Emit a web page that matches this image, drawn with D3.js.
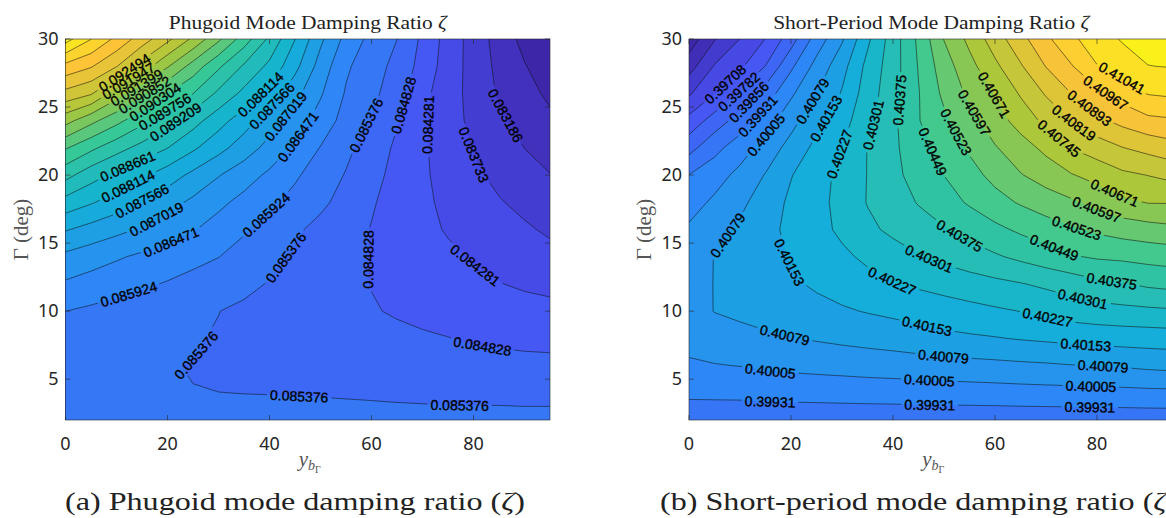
<!DOCTYPE html>
<html>
<head>
<meta charset="utf-8">
<script src="https://cdn.jsdelivr.net/npm/d3@7"></script>
<style>
  body { margin: 0; background: #ffffff; }
  svg { display: block; }
</style>
</head>
<body>
<svg id="fig" width="1166" height="518"></svg>
<script>
// Grid coordinates: spanwise dihedral-break position and dihedral angle
const spanPositions = [0, 5, 10, 15, 20, 25, 30, 35, 40, 45, 50, 55, 60, 65, 70, 75, 80, 85, 90, 95];
const dihedralDeg = [2, 4, 6, 8, 10, 12, 14, 16, 18, 20, 22, 24, 26, 28, 30];

// Phugoid damping ratio, one row per dihedral angle (bottom row = 2 deg)
const phugoidZeta = [
  [0.085677,0.085623,0.085568,0.085529,0.085497,0.085475,0.085458,0.085447,0.085442,0.085436,0.085431,0.085431,0.085431,0.085425,0.085425,0.085420,0.085420,0.085420,0.085414,0.085414],
  [0.085705,0.085623,0.085551,0.085486,0.085392,0.085379,0.085378,0.085373,0.085371,0.085368,0.085365,0.085360,0.085354,0.085349,0.085343,0.085340,0.085338,0.085338,0.085338,0.085338],
  [0.085759,0.085677,0.085595,0.085513,0.085383,0.085370,0.085310,0.085278,0.085250,0.085223,0.085195,0.085157,0.085124,0.085086,0.085048,0.085015,0.084993,0.084971,0.084949,0.084949],
  [0.085814,0.085737,0.085661,0.085584,0.085502,0.085403,0.085349,0.085294,0.085239,0.085184,0.085130,0.085069,0.085015,0.084954,0.084894,0.084840,0.084774,0.084746,0.084719,0.084692],
  [0.085926,0.085830,0.085737,0.085650,0.085562,0.085469,0.085382,0.085294,0.085206,0.085124,0.085037,0.084949,0.084867,0.084774,0.084692,0.084621,0.084555,0.084500,0.084456,0.084418],
  [0.086400,0.086252,0.086115,0.086006,0.085885,0.085748,0.085617,0.085486,0.085349,0.085212,0.085080,0.084944,0.084812,0.084708,0.084610,0.084506,0.084402,0.084297,0.084215,0.084155],
  [0.086893,0.086717,0.086537,0.086373,0.086230,0.086082,0.085935,0.085721,0.085507,0.085310,0.085141,0.084971,0.084807,0.084664,0.084522,0.084374,0.084237,0.084128,0.084007,0.083892],
  [0.087610,0.087374,0.087166,0.086953,0.086728,0.086509,0.086247,0.085984,0.085721,0.085458,0.085228,0.085015,0.084807,0.084610,0.084418,0.084237,0.084095,0.083947,0.083805,0.083651],
  [0.088453,0.088168,0.087856,0.087533,0.087227,0.086909,0.086597,0.086307,0.086033,0.085759,0.085486,0.085190,0.084878,0.084626,0.084380,0.084166,0.083969,0.083772,0.083597,0.083421],
  [0.089389,0.088886,0.088524,0.088218,0.087840,0.087435,0.087051,0.086712,0.086367,0.086000,0.085666,0.085343,0.084993,0.084670,0.084363,0.084089,0.083827,0.083602,0.083394,0.083202],
  [0.090358,0.089877,0.089422,0.089022,0.088672,0.088207,0.087747,0.087292,0.086838,0.086373,0.085902,0.085502,0.085119,0.084735,0.084358,0.084024,0.083706,0.083443,0.083181,0.082967],
  [0.091601,0.091010,0.090473,0.089915,0.089406,0.088880,0.088333,0.087812,0.087270,0.086761,0.086241,0.085721,0.085332,0.084867,0.084369,0.083958,0.083602,0.083290,0.083005,0.082748],
  [0.092877,0.092559,0.091672,0.090972,0.090315,0.089767,0.089094,0.088519,0.087933,0.087199,0.086531,0.085874,0.085518,0.085075,0.084440,0.083969,0.083553,0.083126,0.082830,0.082529],
  [0.093972,0.093643,0.093068,0.092275,0.091453,0.090632,0.089849,0.089137,0.088530,0.087730,0.086800,0.086006,0.085617,0.085217,0.084631,0.084024,0.083526,0.083049,0.082671,0.082310],
  [0.095450,0.094700,0.093999,0.093315,0.092630,0.091837,0.090961,0.090030,0.089099,0.088124,0.087128,0.086307,0.085759,0.085380,0.084719,0.084062,0.083515,0.082967,0.082474,0.082150]
];

// Short-period damping ratio, same grid
const shortPeriodZeta = [
  [0.398912,0.398897,0.398883,0.398875,0.398868,0.398860,0.398853,0.398846,0.398838,0.398838,0.398838,0.398838,0.398838,0.398846,0.398846,0.398853,0.398860,0.398860,0.398868,0.398875],
  [0.399438,0.399453,0.399468,0.399519,0.399542,0.399564,0.399594,0.399623,0.399645,0.399675,0.399697,0.399712,0.399734,0.399764,0.399786,0.399801,0.399823,0.399845,0.399875,0.399890],
  [0.399957,0.400016,0.400068,0.400171,0.400231,0.400282,0.400327,0.400379,0.400416,0.400453,0.400512,0.400556,0.400601,0.400653,0.400697,0.400764,0.400793,0.400860,0.400949,0.401008],
  [0.400268,0.400453,0.400579,0.400675,0.400764,0.400853,0.400942,0.401023,0.401105,0.401230,0.401349,0.401423,0.401490,0.401578,0.401653,0.401727,0.401793,0.401838,0.401867,0.401897],
  [0.400490,0.400808,0.400927,0.401060,0.401186,0.401319,0.401445,0.401571,0.401690,0.401808,0.401927,0.402045,0.402164,0.402282,0.402438,0.402630,0.402734,0.402800,0.402860,0.402919],
  [0.400527,0.400808,0.401016,0.401216,0.401423,0.401630,0.401830,0.402045,0.402230,0.402386,0.402534,0.402682,0.402830,0.402971,0.403149,0.403326,0.403571,0.403704,0.403882,0.403985],
  [0.400416,0.400808,0.401067,0.401319,0.401578,0.401853,0.402134,0.402408,0.402682,0.402956,0.403193,0.403430,0.403660,0.403911,0.404163,0.404422,0.404578,0.404637,0.404733,0.404808],
  [0.400157,0.400527,0.400919,0.401327,0.401690,0.402038,0.402408,0.402845,0.403171,0.403452,0.403689,0.404000,0.404319,0.404615,0.404882,0.405148,0.405356,0.405541,0.405674,0.405800],
  [0.399749,0.400179,0.400616,0.401156,0.401660,0.402045,0.402497,0.403045,0.403423,0.403793,0.404185,0.404578,0.404970,0.405304,0.405600,0.405859,0.406200,0.406548,0.406748,0.406755],
  [0.399320,0.399749,0.400245,0.400830,0.401497,0.401964,0.402475,0.403030,0.403556,0.404045,0.404496,0.404970,0.405444,0.405926,0.406296,0.406666,0.406970,0.407303,0.407466,0.407674],
  [0.398298,0.399083,0.399712,0.400342,0.401067,0.401719,0.402275,0.403030,0.403600,0.404208,0.404785,0.405333,0.405911,0.406392,0.406889,0.407466,0.407814,0.408170,0.408414,0.408659],
  [0.397313,0.398157,0.398875,0.399697,0.400527,0.401319,0.401971,0.402793,0.403593,0.404452,0.405082,0.405726,0.406378,0.407007,0.407637,0.408207,0.408740,0.409155,0.409488,0.409584],
  [0.396246,0.397053,0.397927,0.398890,0.399927,0.400756,0.401593,0.402638,0.403474,0.404452,0.405393,0.406133,0.406748,0.407526,0.408266,0.408940,0.409473,0.409992,0.410451,0.410547],
  [0.395276,0.396394,0.396935,0.397838,0.399164,0.400297,0.401253,0.402482,0.403408,0.404533,0.405630,0.406474,0.407289,0.408111,0.408955,0.409621,0.410384,0.410740,0.411140,0.411191],
  [0.394417,0.395550,0.396350,0.397098,0.398224,0.399631,0.400697,0.402119,0.403378,0.404637,0.405992,0.406896,0.407822,0.408688,0.409510,0.410266,0.410784,0.411229,0.411451,0.411599]
];

// Contour levels
const phugoidLevels = [0.082638, 0.083186, 0.083733, 0.084281, 0.084828, 0.085376, 0.085924, 0.086471,
  0.087019, 0.087566, 0.088114, 0.088661, 0.089209, 0.089756, 0.090304, 0.090852, 0.091399, 0.091947,
  0.092494, 0.093042, 0.093589, 0.094137, 0.094684, 0.095232];
const shortPeriodLevels = [0.394861, 0.395602, 0.396342, 0.39708, 0.39782, 0.39856, 0.39931, 0.40005,
  0.40079, 0.40153, 0.40227, 0.40301, 0.40375, 0.40449, 0.40523, 0.40597, 0.40671, 0.40745, 0.40819,
  0.40893, 0.40967, 0.41041, 0.411154];

// Inline contour labels: [level, y_b, Gamma] near which each label sits
const phugoidLabelAnchors = [
  [0.092494, 11.7, 27.45], [0.091947, 12.2, 27.0], [0.091399, 13.9, 26.45], [0.090852, 15.5, 25.9],
  [0.090304, 17.5, 25.4], [0.089756, 19.4, 24.7], [0.089209, 21.6, 23.9], [0.088661, 12.0, 20.8],
  [0.088114, 12.3, 19.15], [0.087566, 15.0, 18.1], [0.087019, 17.7, 16.85], [0.086471, 20.5, 15.25],
  [0.085924, 12.4, 11.25], [0.088114, 38.3, 25.9], [0.087566, 40.4, 25.1], [0.087019, 42.9, 24.4],
  [0.086471, 45.7, 22.8], [0.085924, 39.3, 17.1], [0.085376, 59.0, 23.65], [0.085376, 43.0, 14.0],
  [0.085376, 25.0, 6.9], [0.085376, 45.8, 3.65], [0.085376, 77.3, 3.05], [0.084828, 66.6, 25.1],
  [0.084828, 59.3, 13.8], [0.084828, 81.8, 7.55], [0.084281, 71.0, 23.7], [0.084281, 80.2, 13.3],
  [0.083733, 80.1, 21.5], [0.083186, 86.2, 24.35]
];
const shortPeriodLabelAnchors = [
  [0.39708, 7.3, 26.6], [0.39782, 9.85, 26.1], [0.39856, 11.5, 25.45], [0.39931, 13.3, 24.4],
  [0.40005, 15.1, 22.95], [0.40079, 24.2, 25.45], [0.40153, 26.7, 24.2], [0.40227, 29.4, 21.55],
  [0.40301, 36.0, 23.7], [0.40375, 41.3, 25.5], [0.40449, 47.7, 21.7], [0.40523, 52.3, 23.15],
  [0.40597, 56.1, 24.6], [0.40671, 59.85, 25.9], [0.40745, 72.6, 22.7], [0.40819, 75.5, 23.85],
  [0.40893, 78.6, 24.95], [0.40967, 81.7, 26.05], [0.41041, 84.85, 27.1], [0.40671, 83.5, 18.7],
  [0.40597, 79.9, 17.45], [0.40523, 76.0, 16.1], [0.40449, 71.75, 14.8], [0.40375, 53.0, 15.5],
  [0.40375, 82.9, 12.25], [0.40301, 47.1, 13.85], [0.40301, 77.2, 10.85], [0.40227, 39.9, 12.25],
  [0.40227, 70.3, 9.55], [0.40153, 19.5, 13.55], [0.40153, 46.6, 8.8], [0.40153, 77.8, 7.6],
  [0.40079, 7.5, 15.6], [0.40079, 18.8, 8.3], [0.40079, 49.9, 6.7], [0.40079, 81.2, 5.95],
  [0.40005, 15.9, 5.4], [0.40005, 47.1, 4.85], [0.40005, 78.8, 4.45], [0.39931, 15.9, 3.4],
  [0.39931, 47.2, 3.1], [0.39931, 78.6, 2.95]
];

const xTicks = [0, 20, 40, 60, 80];
const yTicks = [5, 10, 15, 20, 25, 30];

// parula colour map anchors
const PARULA = ["#3e26a8", "#4852f4", "#2e87f7", "#12b1d6", "#37c897", "#abc739", "#fec338", "#f9fb15"];

const svg = d3.select("#fig");
const W = 1166, H = 518;
const plotW = 484.5, plotTop = 39, plotBottom = 420;
const fmt = d3.format(".5g");
const serif = "'Liberation Serif', 'Times New Roman', serif";
const sans = "'Noto Sans', 'DejaVu Sans', sans-serif";

// d3.contours places grid value i at coordinate i + offset; measure that offset once
const probe = d3.contours().size([2, 1]).thresholds([0.5])([0, 1]);
const half = d3.min(probe[0].coordinates.flat(2), p => p[0]) - 0.5;

const panels = [
  { id: "a", values: phugoidZeta, levels: phugoidLevels, anchors: phugoidLabelAnchors,
    left: 65.5, ylabelX: 22, title: "Phugoid Mode Damping Ratio ", caption: "(a) Phugoid mode damping ratio (", captionX: 65 },
  { id: "b", values: shortPeriodZeta, levels: shortPeriodLevels, anchors: shortPeriodLabelAnchors,
    left: 689, ylabelX: 645, title: "Short-Period Mode Damping Ratio ", caption: "(b) Short-period mode damping ratio (", captionX: 660 }
];

function ringRuns(ring, nx, ny) {
  // split a closed ring into the pieces that are not on the padded grid border
  const eps = 1e-6;
  const pts = ring.slice(0, ring.length - 1).map(p => [p[0] - half, p[1] - half]);
  const onBorder = p => p[0] <= -0.5 + eps || p[0] >= nx - 0.5 - eps || p[1] <= -0.5 + eps || p[1] >= ny - 0.5 - eps;
  const start = pts.findIndex(onBorder);
  if (start < 0) return [pts.concat([pts[0]])];
  const runs = [];
  let cur = [];
  for (let k = 0; k <= pts.length; k++) {
    const p = pts[(start + k) % pts.length];
    if (onBorder(p)) {
      if (cur.length > 1) runs.push(cur);
      cur = [];
    } else cur.push(p);
  }
  if (cur.length > 1) runs.push(cur);
  return runs;
}

function drawPanel(p) {
  const nx = spanPositions.length, ny = dihedralDeg.length;
  const x0 = p.left, x1 = p.left + plotW;
  const xs = d3.scaleLinear([0, 95], [x0, x1]);
  const ys = d3.scaleLinear([2, 30], [plotBottom, plotTop]);
  const ix = d3.scaleLinear([0, nx - 1], [spanPositions[0], spanPositions[nx - 1]]);
  const iy = d3.scaleLinear([0, ny - 1], [dihedralDeg[0], dihedralDeg[ny - 1]]);
  const flat = p.values.flat();
  const [zmin, zmax] = d3.extent(flat);
  const cmap = d3.scaleLinear().domain(PARULA.map((_, i) => i / (PARULA.length - 1))).range(PARULA)
    .interpolate(d3.interpolateRgb);
  const colorOf = v => cmap((v - zmin) / (zmax - zmin));

  const idxToPx = (a, b) => [xs(ix(a)), ys(iy(b))];
  const clampPx = pt => {
    const a = Math.max(0, Math.min(nx - 1, pt[0] - half));
    const b = Math.max(0, Math.min(ny - 1, pt[1] - half));
    return idxToPx(a, b);
  };

  const bands = d3.contours().size([nx, ny]).thresholds(p.levels)(flat);

  const defs = svg.append("defs");
  defs.append("clipPath").attr("id", "clip-" + p.id)
    .append("rect").attr("x", x0).attr("y", plotTop).attr("width", plotW).attr("height", plotBottom - plotTop);

  const g = svg.append("g").attr("clip-path", `url(#clip-${p.id})`);

  // filled bands
  g.append("rect").attr("x", x0).attr("y", plotTop).attr("width", plotW).attr("height", plotBottom - plotTop)
    .attr("fill", colorOf(zmin));
  const fillG = g.append("g");
  bands.forEach(c => {
    let d = "";
    c.coordinates.forEach(poly => poly.forEach(ring => {
      d += "M" + ring.map(pt => clampPx(pt).map(v => v.toFixed(2)).join(",")).join("L") + "Z";
    }));
    if (d) fillG.append("path").attr("d", d).attr("fill", colorOf(c.value)).attr("fill-rule", "evenodd")
      .attr("stroke", colorOf(c.value)).attr("stroke-width", 0.3);
  });

  // isolines
  const runsByLevel = new Map();
  bands.forEach(c => {
    const runs = [];
    c.coordinates.forEach(poly => poly.forEach(ring => {
      ringRuns(ring, nx, ny).forEach(r => runs.push(r.map(q => idxToPx(q[0], q[1]))));
    }));
    runsByLevel.set(c.value, runs);
  });

  const mask = defs.append("mask").attr("id", "mask-" + p.id).attr("maskUnits", "userSpaceOnUse")
    .attr("x", 0).attr("y", 0).attr("width", W).attr("height", H);
  mask.append("rect").attr("x", 0).attr("y", 0).attr("width", W).attr("height", H).attr("fill", "#fff");

  const lineG = g.append("g").attr("mask", `url(#mask-${p.id})`);
  const line = d3.line();
  runsByLevel.forEach(runs => runs.forEach(r => {
    lineG.append("path").attr("d", line(r)).attr("fill", "none")
      .attr("stroke", "#111").attr("stroke-width", 0.6).attr("stroke-opacity", 0.9);
  }));

  // labels
  const labelG = g.append("g");
  p.anchors.forEach(([lv, ax, ay]) => {
    const runs = runsByLevel.get(lv);
    if (!runs || !runs.length) return;
    const target = [xs(ax), ys(ay)];
    let best = null;
    runs.forEach(run => {
      let acc = 0;
      for (let k = 0; k < run.length - 1; k++) {
        const a = run[k], b = run[k + 1];
        const dx = b[0] - a[0], dy = b[1] - a[1];
        const L = Math.hypot(dx, dy);
        let t = L ? ((target[0] - a[0]) * dx + (target[1] - a[1]) * dy) / (L * L) : 0;
        t = Math.max(0, Math.min(1, t));
        const q = [a[0] + t * dx, a[1] + t * dy];
        const dist = Math.hypot(q[0] - target[0], q[1] - target[1]);
        if (!best || dist < best.dist) best = { dist, run, s: acc + t * L, q };
        acc += L;
      }
    });
    const run = best.run;
    const cum = [0];
    for (let k = 1; k < run.length; k++) cum.push(cum[k - 1] + Math.hypot(run[k][0] - run[k - 1][0], run[k][1] - run[k - 1][1]));
    const at = s => {
      s = Math.max(0, Math.min(cum[cum.length - 1], s));
      let k = d3.bisectRight(cum, s) - 1;
      k = Math.max(0, Math.min(run.length - 2, k));
      const seg = cum[k + 1] - cum[k] || 1;
      const t = (s - cum[k]) / seg;
      return [run[k][0] + t * (run[k + 1][0] - run[k][0]), run[k][1] + t * (run[k + 1][1] - run[k][1])];
    };
    const pa = at(best.s - 16), pb = at(best.s + 16);
    let ang = Math.atan2(pb[1] - pa[1], pb[0] - pa[0]) * 180 / Math.PI;
    if (ang > 90) ang -= 180;
    if (ang <= -90) ang += 180;
    const [cx, cy] = best.q;
    const txt = labelG.append("text")
      .attr("transform", `translate(${cx.toFixed(2)},${cy.toFixed(2)}) rotate(${ang.toFixed(2)})`)
      .attr("text-anchor", "middle").attr("dy", "0.36em")
      .attr("font-family", "'Liberation Sans', Arial, sans-serif").attr("font-size", 14)
      .attr("fill", "#000").attr("stroke", "#000").attr("stroke-width", 0.35)
      .text(fmt(lv));
    const tw = txt.node().getComputedTextLength();
    mask.append("rect").attr("x", -tw / 2 - 3).attr("y", -7).attr("width", tw + 6).attr("height", 14)
      .attr("transform", `translate(${cx.toFixed(2)},${cy.toFixed(2)}) rotate(${ang.toFixed(2)})`)
      .attr("fill", "#000");
  });

  // axes box and ticks
  const axG = svg.append("g").attr("stroke", "#262626").attr("stroke-width", 0.6).attr("fill", "none");
  axG.append("rect").attr("x", x0).attr("y", plotTop).attr("width", plotW).attr("height", plotBottom - plotTop);
  xTicks.forEach(t => {
    axG.append("line").attr("x1", xs(t)).attr("x2", xs(t)).attr("y1", plotBottom).attr("y2", plotBottom - 5);
    axG.append("line").attr("x1", xs(t)).attr("x2", xs(t)).attr("y1", plotTop).attr("y2", plotTop + 5);
  });
  yTicks.forEach(t => {
    axG.append("line").attr("x1", x0).attr("x2", x0 + 5).attr("y1", ys(t)).attr("y2", ys(t));
    axG.append("line").attr("x1", x1).attr("x2", x1 - 5).attr("y1", ys(t)).attr("y2", ys(t));
  });

  const tickG = svg.append("g").attr("font-family", sans).attr("font-size", 18).attr("fill", "#262626");
  xTicks.forEach(t => tickG.append("text").attr("x", xs(t)).attr("y", 450).attr("text-anchor", "middle").text(t));
  yTicks.forEach(t => tickG.append("text").attr("x", x0 - 7).attr("y", ys(t)).attr("dy", "0.35em")
    .attr("text-anchor", "end").text(t));

  // axis labels
  svg.append("text").attr("transform", `translate(${p.ylabelX},${(plotTop + plotBottom) / 2}) rotate(-90)`)
    .attr("text-anchor", "middle").attr("dy", "0.3em").attr("font-family", serif).attr("font-size", 21)
    .attr("fill", "#555").text("Γ (deg)");
  const xl = svg.append("text").attr("x", (x0 + x1) / 2 - 9).attr("y", 466)
    .attr("font-family", serif).attr("fill", "#555");
  xl.append("tspan").attr("font-style", "italic").attr("font-size", 21).text("y");
  xl.append("tspan").attr("font-style", "italic").attr("font-size", 14).attr("dy", 4).text("b");
  xl.append("tspan").attr("font-size", 10).attr("dy", 2.5).text("Γ");

  p.cx = (x0 + x1) / 2;
}

panels.forEach(drawPanel);

// titles and captions, sized against the left panel
const titles = panels.map(p => {
  const t = svg.append("text").attr("x", p.cx).attr("y", 29).attr("text-anchor", "middle")
    .attr("font-family", serif).attr("font-size", 19.5).attr("fill", "#222");
  t.append("tspan").text(p.title);
  t.append("tspan").attr("font-style", "italic").text("ζ");
  return t;
});
const tk = 278 / titles[0].node().getComputedTextLength();
titles.forEach(t => t.attr("textLength", t.node().getComputedTextLength() * tk).attr("lengthAdjust", "spacingAndGlyphs"));

const caps = panels.map(p => {
  const t = svg.append("text").attr("x", p.captionX).attr("y", 510)
    .attr("font-family", serif).attr("font-size", 25).attr("fill", "#222");
  t.append("tspan").text(p.caption);
  t.append("tspan").attr("font-style", "italic").text("ζ");
  t.append("tspan").text(")");
  return t;
});
const ck = 460 / caps[0].node().getComputedTextLength();
caps.forEach(t => t.attr("textLength", t.node().getComputedTextLength() * ck).attr("lengthAdjust", "spacingAndGlyphs"));
</script>
</body>
</html>
